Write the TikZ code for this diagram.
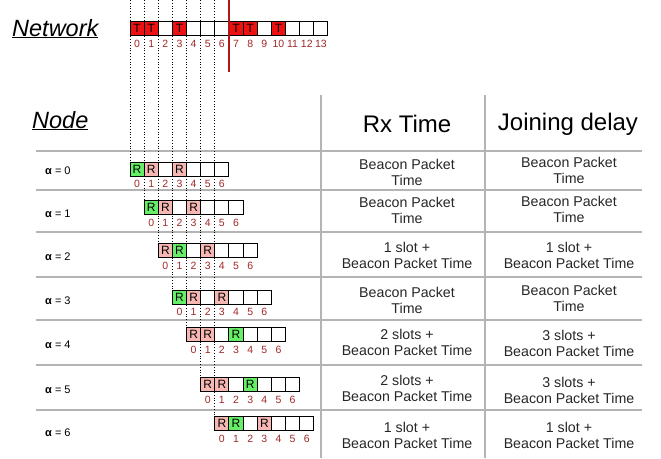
\documentclass[tikz,border=0pt]{standalone}
\usepackage{fontspec}
\setmainfont{Liberation Sans}
\definecolor{tred}{HTML}{EE1111}
\definecolor{rpink}{HTML}{F7B8B4}
\definecolor{rgreen}{HTML}{66EE66}
\definecolor{numred}{HTML}{A02828}
\definecolor{gridgrey}{HTML}{B4B4B4}
\definecolor{cutred}{HTML}{B01818}
\begin{document}
\begin{tikzpicture}[x=1pt,y=-1pt,
  cell/.style={draw=black, line width=1pt, minimum width=14.14pt, minimum height=14pt,
    inner sep=0pt, outer sep=0pt, anchor=north west, font=\fontsize{12}{12}\selectfont},
  cT/.style={fill=tred, node contents=T},
  cG/.style={fill=rgreen, node contents=R},
  cP/.style={fill=rpink, node contents=R},
  cW/.style={fill=white, node contents={}},
  num/.style={text=numred, font=\fontsize{10.5}{10.5}\selectfont, inner sep=0pt},
  dotline/.style={black, line width=0.8pt, dotted},
  cutline/.style={cutred, line width=1.2pt},
  gridline/.style={gridgrey, line width=1.2pt},
  title/.style={font=\fontsize{23.5}{23.5}\selectfont\itshape, inner sep=0pt, anchor=base west},
  head/.style={font=\fontsize{24}{24}\selectfont, inner sep=0pt},
  celltext/.style={font=\fontsize{14.2}{16}\selectfont, align=center, inner sep=0pt, text=black!85},
  alab/.style={font=\fontsize{11}{11}\selectfont, anchor=west, inner sep=0pt}
]
\useasboundingbox (0,0) rectangle (661,458);

% titles
\node[title] (net) at (12,36) {\underline{Network}};
\node[title] (nodetitle) at (32,128) {\underline{Node}};

% table lines
\foreach \y in {151,190,232,277,320,365,410}
  \draw[gridline] (36,\y) -- (642,\y);
\draw[gridline] (321,95) -- (321,458);
\draw[gridline] (485,95) -- (485,458);

% headers
\node[head] (hrx) at (407,124) {Rx Time};
\node[head] (hjd) at (568,124) {Joining delay};

% network bar
\foreach \s [count=\i from 0] in {cT,cT,cW,cT,cW,cW,cW,cT,cT,cW,cT,cW,cW,cW}
  \node (n\i) at ({130+14.14*\i},21) [cell,\s];
\foreach \i in {0,...,13}
  \node[num] (nl\i) at ({130+14.14*\i+7.07},43.5) {\i};

% node rows
\foreach \a/\yt/\yn/\pat in {
  0/162/183.5/{cG,cP,cW,cP,cW,cW,cW},
  1/200/222.5/{cG,cP,cW,cP,cW,cW,cW},
  2/243/266/{cP,cG,cW,cP,cW,cW,cW},
  3/290/312/{cG,cP,cW,cP,cW,cW,cW},
  4/327/349.5/{cP,cP,cW,cG,cW,cW,cW},
  5/377/399.5/{cP,cP,cW,cG,cW,cW,cW},
  6/416/438.5/{cP,cG,cW,cP,cW,cW,cW}} {
  \foreach \s [count=\i from 0] in \pat
    \node (r\a-\i) at ({130+14.14*(\a+\i)},\yt) [cell,\s];
  \foreach \i in {0,...,6}
    \node[num] (rn\a-\i) at ({130+14.14*(\a+\i)+7.07},\yn) {\i};
}

% dotted guide lines
\foreach \k in {0,...,6} {
  \coordinate (top\k) at ({130+14.14*\k},0);
  \draw[dotline] (top\k) -- (r\k-0.north west);
}
% cut line
\coordinate (cutTop) at (229,0);
\coordinate (cutBot) at (229,72);
\draw[cutline] (cutTop) -- (cutBot);

% row labels
\foreach \a/\y in {0/171,1/214,2/257,3/301,4/345,5/390,6/433}
  \node[alab] (al\a) at (45,\y) {\textbf{α} = \a};

% table text
\node[celltext] (rx0) at (407,172) {Beacon Packet\\Time};
\node[celltext] (jd0) at (569,170) {Beacon Packet\\Time};
\node[celltext] (rx1) at (407,210) {Beacon Packet\\Time};
\node[celltext] (jd1) at (569,209) {Beacon Packet\\Time};
\node[celltext] (rx2) at (407,255) {1 slot +\\Beacon Packet Time};
\node[celltext] (jd2) at (569,255) {1 slot +\\Beacon Packet Time};
\node[celltext] (rx3) at (407,300) {Beacon Packet\\Time};
\node[celltext] (jd3) at (569,298) {Beacon Packet\\Time};
\node[celltext] (rx4) at (407,342) {2 slots +\\Beacon Packet Time};
\node[celltext] (jd4) at (569,343) {3 slots +\\Beacon Packet Time};
\node[celltext] (rx5) at (407,388) {2 slots +\\Beacon Packet Time};
\node[celltext] (jd5) at (569,390) {3 slots +\\Beacon Packet Time};
\node[celltext] (rx6) at (407,435) {1 slot +\\Beacon Packet Time};
\node[celltext] (jd6) at (569,435) {1 slot +\\Beacon Packet Time};
\end{tikzpicture}
\end{document}
